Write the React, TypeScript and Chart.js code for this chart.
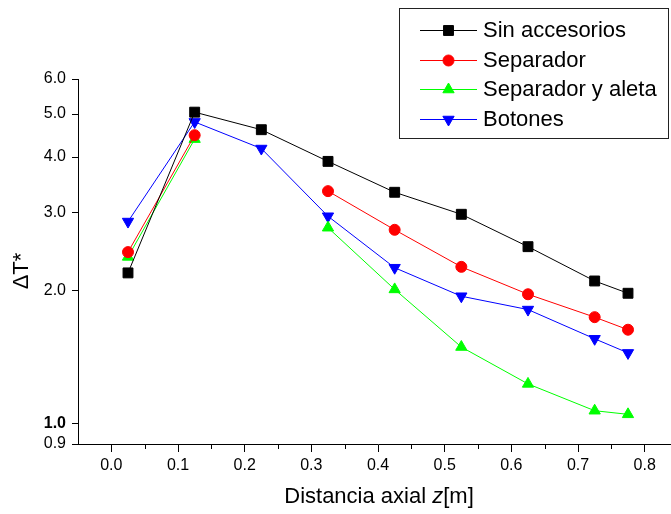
import React, { useEffect, useRef } from 'react';
import { Chart, registerables } from 'chart.js';

Chart.register(...registerables);

// ---- Data ----
const zPositions = [0.025, 0.125, 0.225, 0.325, 0.425, 0.525, 0.625, 0.725, 0.775];
const sinAccesorios = [2.19, 5.05, 4.61, 3.91, 3.33, 2.97, 2.51, 2.1, 1.97];
const separador = [2.44, 4.48, null, 3.35, 2.74, 2.26, 1.96, 1.74, 1.63];
const separadorAleta = [2.38, 4.39, null, 2.77, 2.01, 1.49, 1.23, 1.07, 1.05];
const botones = [2.86, 4.8, 4.18, 2.94, 2.25, 1.94, 1.81, 1.555, 1.445];

const seriesLabels = ['Sin accesorios', 'Separador', 'Separador y aleta', 'Botones'];
const xTickValues = [0, 0.1, 0.2, 0.3, 0.4, 0.5, 0.6, 0.7, 0.8];
const xMinorTickValues = [0.05, 0.15, 0.25, 0.35, 0.45, 0.55, 0.65, 0.75, 0.85];
const yTickValues = [0.9, 1, 2, 3, 4, 5, 6];
const xTitleParts = ['Distancia axial ', 'z', '[m]'];
const yTitle = '\u0394T*';

const FONT = "Arial, 'Liberation Sans', sans-serif";
const CANVAS_W = 686;

const seriesStyles = [
  { color: '#000000', style: 'rect', radius: 7, rotation: 0 },
  { color: '#ff0000', style: 'circle', radius: 5.5, rotation: 0 },
  { color: '#00ff00', style: 'triangle', radius: 6.5, rotation: 0 },
  { color: '#0000ff', style: 'triangle', radius: 6.5, rotation: 180 },
];

function drawMarker(
  ctx: CanvasRenderingContext2D,
  style: string,
  x: number,
  y: number,
  r: number,
  rotationDeg: number,
  color: string
) {
  ctx.save();
  ctx.fillStyle = color;
  ctx.strokeStyle = color;
  ctx.lineWidth = 1;
  ctx.beginPath();
  if (style === 'rect') {
    const s = Math.SQRT1_2 * r;
    ctx.rect(x - s, y - s, 2 * s, 2 * s);
  } else if (style === 'circle') {
    ctx.arc(x, y, r, 0, Math.PI * 2);
  } else {
    let rad = (rotationDeg * Math.PI) / 180;
    ctx.moveTo(x + Math.sin(rad) * r, y - Math.cos(rad) * r);
    rad += (2 * Math.PI) / 3;
    ctx.lineTo(x + Math.sin(rad) * r, y - Math.cos(rad) * r);
    rad += (2 * Math.PI) / 3;
    ctx.lineTo(x + Math.sin(rad) * r, y - Math.cos(rad) * r);
    ctx.closePath();
  }
  ctx.fill();
  ctx.stroke();
  ctx.restore();
}

const decorPlugin = {
  id: 'decor',
  afterDraw(chart: any) {
    const ctx: CanvasRenderingContext2D = chart.ctx;
    const xs = chart.scales.x;
    const area = chart.chartArea;
    ctx.save();
    // minor x ticks
    ctx.strokeStyle = '#000';
    ctx.lineWidth = 1;
    xMinorTickValues.forEach((v) => {
      const px = Math.round(xs.getPixelForValue(v)) + 0.5;
      ctx.beginPath();
      ctx.moveTo(px, area.bottom);
      ctx.lineTo(px, area.bottom + 5);
      ctx.stroke();
    });

    // x title
    ctx.fillStyle = '#000';
    ctx.textBaseline = 'alphabetic';
    ctx.textAlign = 'left';
    const fonts = [`22px ${FONT}`, `italic 22px ${FONT}`, `22px ${FONT}`];
    let total = 0;
    const widths = xTitleParts.map((t, i) => {
      ctx.font = fonts[i];
      const w = ctx.measureText(t).width;
      total += w;
      return w;
    });
    let cx = 379 - total / 2;
    xTitleParts.forEach((t, i) => {
      ctx.font = fonts[i];
      ctx.fillText(t, cx, 503);
      cx += widths[i];
    });

    // y title
    ctx.save();
    ctx.translate(22, 271);
    ctx.rotate(-Math.PI / 2);
    ctx.font = `22px ${FONT}`;
    ctx.textAlign = 'center';
    ctx.textBaseline = 'middle';
    ctx.fillText(yTitle, 0, 0);
    ctx.restore();

    // legend
    ctx.strokeStyle = '#222';
    ctx.lineWidth = 1;
    ctx.strokeRect(399.5, 8.5, 269, 130);
    const rowY = [30, 60, 89, 119];
    chart.data.datasets.forEach((ds: any, i: number) => {
      const st = seriesStyles[i];
      const y = rowY[i];
      ctx.strokeStyle = st.color;
      ctx.lineWidth = 1;
      ctx.beginPath();
      ctx.moveTo(420, y + 0.5);
      ctx.lineTo(477, y + 0.5);
      ctx.stroke();
      drawMarker(ctx, st.style, 448.5, y + 0.5, st.radius, st.rotation, st.color);
      ctx.fillStyle = '#000';
      ctx.font = `22px ${FONT}`;
      ctx.textAlign = 'left';
      ctx.textBaseline = 'middle';
      ctx.fillText(ds.label, 483, y + 1);
    });
    ctx.restore();
  },
};

export default function App() {
  const ref = useRef<HTMLCanvasElement>(null);

  useEffect(() => {
    if (!ref.current) return;
    const allValues = [sinAccesorios, separador, separadorAleta, botones];
    const datasets = allValues.map((vals, i) => {
      const st = seriesStyles[i];
      return {
        label: seriesLabels[i],
        data: zPositions.map((x, j) => ({ x, y: vals[j] })),
        borderColor: st.color,
        backgroundColor: st.color,
        borderWidth: 1,
        pointStyle: st.style as any,
        pointRadius: st.radius,
        pointHoverRadius: st.radius,
        pointRotation: st.rotation,
        pointBorderWidth: 1,
        pointBorderColor: st.color,
        pointBackgroundColor: st.color,
        spanGaps: false,
        tension: 0,
        fill: false,
      };
    });

    const chart = new Chart(ref.current, {
      type: 'line',
      data: { datasets: datasets as any },
      options: {
        animation: false,
        responsive: false,
        devicePixelRatio: 1,
        layout: { padding: { top: 79, right: 1, left: 0, bottom: 0 } },
        plugins: {
          legend: { display: false },
          tooltip: { enabled: false },
          title: { display: false },
        },
        scales: {
          x: {
            type: 'linear',
            min: -0.05,
            max: 0.85,
            afterFit: (s: any) => {
              s.height = 70;
            },
            afterBuildTicks: (s: any) => {
              s.ticks = xTickValues.map((v) => ({ value: v }));
            },
            grid: {
              display: true,
              drawOnChartArea: false,
              drawTicks: true,
              tickLength: 8,
              color: '#000',
              tickColor: '#000',
            },
            border: { display: true, color: '#000', width: 1 },
            ticks: {
              autoSkip: false,
              maxRotation: 0,
              padding: 4,
              color: '#000',
              font: { family: FONT, size: 16 },
              callback: (v: any) => Number(v).toFixed(1),
            },
          },
          y: {
            type: 'logarithmic',
            min: 0.9,
            max: 6,
            afterFit: (s: any) => {
              s.width = 78;
            },
            afterBuildTicks: (s: any) => {
              s.ticks = yTickValues.map((v) => ({ value: v }));
            },
            grid: {
              display: true,
              drawOnChartArea: false,
              drawTicks: true,
              tickLength: 6,
              color: '#000',
              tickColor: '#000',
            },
            border: { display: true, color: '#000', width: 1 },
            ticks: {
              autoSkip: false,
              padding: 6,
              color: '#000',
              font: (c: any) => ({
                family: FONT,
                size: 16,
                weight: c.tick && c.tick.value === 1 ? 'bold' : 'normal',
              }),
              callback: (v: any) => Number(v).toFixed(1),
            },
          },
        },
      },
      plugins: [decorPlugin],
    });

    return () => chart.destroy();
  }, []);

  return (
    <div
      style={{
        position: 'absolute',
        left: 0,
        top: 0,
        width: 671,
        height: 514,
        overflow: 'hidden',
        background: '#fff',
      }}
    >
      <canvas
        ref={ref}
        width={CANVAS_W}
        height={514}
        style={{ display: 'block', width: CANVAS_W, height: 514 }}
      />
    </div>
  );
}
